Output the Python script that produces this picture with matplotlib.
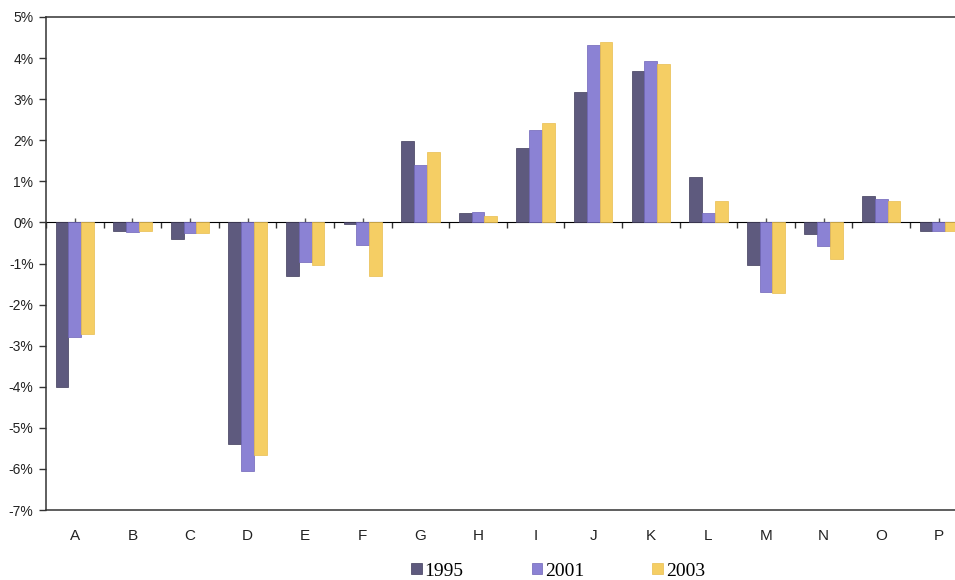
import matplotlib
matplotlib.use("Agg")
import matplotlib.pyplot as plt
from matplotlib.patches import Patch
import numpy as np

categories = ["A", "B", "C", "D", "E", "F", "G", "H", "I", "J", "K", "L", "M", "N", "O", "P"]
series_names = ["1995", "2001", "2003"]
v1995 = [-4.0, -0.2, -0.4, -5.4, -1.3, -0.05, 1.97, 0.22, 1.8, 3.18, 3.68, 1.1, -1.03, -0.27, 0.65, -0.22]
v2001 = [-2.8, -0.23, -0.25, -6.05, -0.97, -0.55, 1.4, 0.26, 2.26, 4.33, 3.92, 0.22, -1.7, -0.58, 0.58, -0.22]
v2003 = [-2.72, -0.2, -0.25, -5.65, -1.03, -1.3, 1.72, 0.16, 2.43, 4.39, 3.85, 0.51, -1.72, -0.89, 0.53, -0.2]
yticks = list(range(-7, 6))

colors = ["#5e5a7e", "#8b82d4", "#f5ce64"]
edges = ["#3f3b5a", "#6e64b8", "#e8bd4e"]

fig = plt.figure(figsize=(9.55, 5.8), dpi=100)
ax = fig.add_axes([46/955, 1 - 510/580, (967.6 - 46)/955, (510 - 17)/580])

x = np.arange(len(categories))
w = 0.222
for i, (vals, c, e) in enumerate(zip([v1995, v2001, v2003], colors, edges)):
    ax.bar(x + (i - 1) * w, vals, width=w, color=c, edgecolor=e, linewidth=0.5, zorder=3)

ax.set_xlim(-0.5, len(categories) - 0.5)
ax.set_ylim(-7, 5)
ax.set_yticks(yticks)
ax.set_yticklabels([f"{t}%" for t in yticks], fontsize=10, family="Liberation Sans", color="#222222")
ax.tick_params(axis="y", direction="out", length=5, width=1, pad=4, color="#333333")

ax.set_xticks(x)
ax.set_xticklabels(categories, fontsize=11, family="Liberation Sans", color="#222222")
ax.tick_params(axis="x", length=0, pad=14)

for s in ["left", "bottom", "top", "right"]:
    ax.spines[s].set_linewidth(1.1)
    ax.spines[s].set_color("#333333")

# zero axis with tick marks
sec = ax.secondary_xaxis(7/12)
sec.set_xticks(np.arange(len(categories) + 1) - 0.5)
sec.set_xticks(x, minor=True)
sec.tick_params(which="major", direction="out", length=4, width=1, labelbottom=False, labeltop=False, color="#333333")
sec.tick_params(which="minor", direction="in", length=3, width=1, color="#555555")
sec.xaxis.set_ticks_position("bottom")
sec.tick_params(which="major", direction="out", length=4)
sec.spines["bottom"].set_linewidth(1.0)
sec.spines["bottom"].set_color("#333333")
sec.set_xticklabels([])

handles = [Patch(facecolor=c, edgecolor=e, linewidth=0.5) for c, e in zip(colors, edges)]
fig.legend(handles, series_names, loc="center", bbox_to_anchor=(558/955, 1 - 571/580),
           ncol=3, frameon=False, prop={"family": "Liberation Serif", "size": 14},
           handlelength=0.55, handleheight=0.55, handletextpad=0.15, columnspacing=3.5,
           borderpad=0, borderaxespad=0)

fig.savefig("out.png", dpi=100, facecolor="white")
